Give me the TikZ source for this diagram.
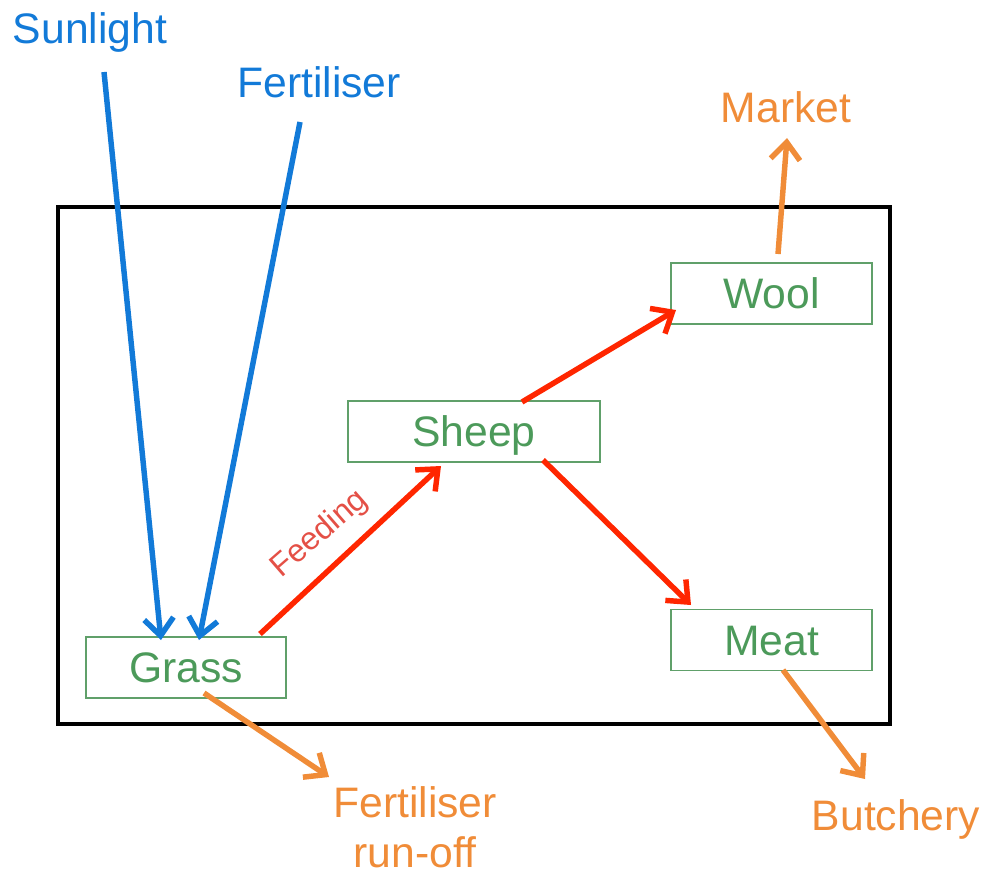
\documentclass[tikz,border=0pt]{standalone}
\usepackage{fontspec}
\setmainfont{Liberation Sans}
\usetikzlibrary{arrows.meta}
\definecolor{cblue}{RGB}{18,122,216}
\definecolor{cred}{RGB}{255,38,0}
\definecolor{corange}{RGB}{240,140,56}
\definecolor{cgreen}{RGB}{76,154,90}
\definecolor{cboxgreen}{RGB}{96,160,106}
\definecolor{cfeed}{RGB}{228,80,70}
\begin{document}
\begin{tikzpicture}[x=0.75pt,y=-0.75pt,
  box/.style={draw=cboxgreen,line width=1.4pt,minimum height=45.75pt,inner sep=0pt,
    text=cgreen,font=\fontsize{32}{38}\selectfont,text height=23pt,text depth=0pt},
  lbl/.style={anchor=base,font=\fontsize{32}{37.5}\selectfont,inner sep=0pt},
  arr/.style={line width=4.1pt,-{Straight Barb[length=13pt,width=22pt]}},
  frame/.style={draw=black,line width=2.3pt}]
\useasboundingbox (0,0) rectangle (991,879);
% frame
\draw[frame] (58,207) rectangle (890,724);
% boxes
\node[box,minimum width=150pt] (grass) at (186,667.5) {Grass};
\node[box,minimum width=189pt] (sheep) at (474,431.5) {Sheep};
\node[box,minimum width=150.75pt] (wool) at (771.5,293.5) {Wool};
\node[box,minimum width=150.75pt] (meat) at (771.5,640) {Meat};
% labels
\node[lbl,text=cblue] (sun) at (90,43) {Sunlight};
\node[lbl,text=cblue] (fert) at (319,97) {Fertiliser};
\node[lbl,text=corange] (market) at (786,122) {Market};
\node[lbl,text=corange,align=center] (runoff) at (415,867) {Fertiliser\\run-off};
\node[lbl,text=corange] (butch) at (896,830) {Butchery};
\node[font=\fontsize{24}{28}\selectfont,text=cfeed,rotate=41,inner sep=0pt] (feedlbl) at (320,534) {Feeding};
% connector endpoints
\coordinate (sunS) at (104,72);
\coordinate (sunE) at (161,640);
\coordinate (fertS) at (300,122);
\coordinate (fertE) at (199,640);
\coordinate (feedS) at (260,634);
\coordinate (feedE) at (441,466);
\coordinate (woolS) at (522,402);
\coordinate (woolE) at (676,310);
\coordinate (meatS) at (543,460);
\coordinate (meatE) at (691,605);
\coordinate (marS) at (778,254);
\coordinate (marE) at (787,138);
\coordinate (runS) at (204,693);
\coordinate (runE) at (329,777);
\coordinate (butS) at (783,670);
\coordinate (butE) at (865,779);
% arrows
\draw[arr,cblue] (sunS) -- (sunE);
\draw[arr,cblue] (fertS) -- (fertE);
\draw[arr,cred] (feedS) -- (feedE);
\draw[arr,cred] (woolS) -- (woolE);
\draw[arr,cred] (meatS) -- (meatE);
\draw[arr,corange] (marS) -- (marE);
\draw[arr,corange] (runS) -- (runE);
\draw[arr,corange] (butS) -- (butE);
\end{tikzpicture}
\end{document}
